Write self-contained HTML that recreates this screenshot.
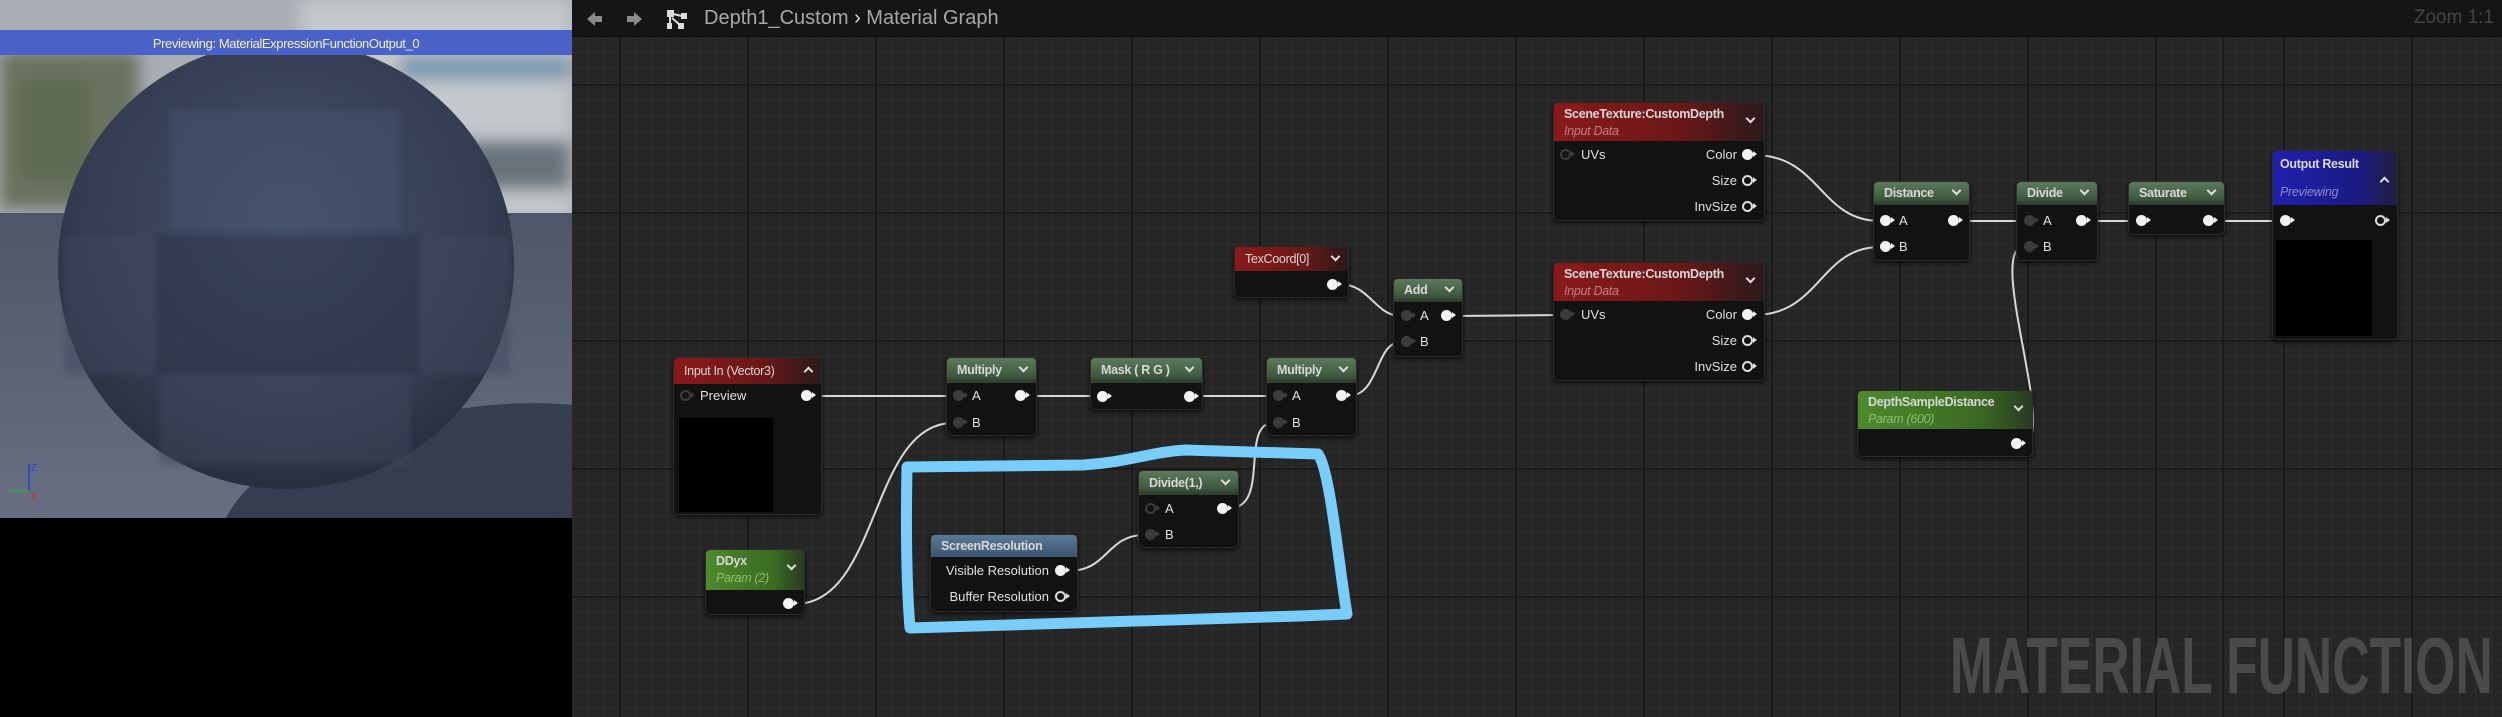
<!DOCTYPE html>
<html><head><meta charset="utf-8">
<style>
*{margin:0;padding:0;box-sizing:border-box}
body{width:2502px;height:717px;overflow:hidden;background:#000;font-family:"Liberation Sans",sans-serif;position:relative}
#graph{position:absolute;left:572px;top:0;width:1930px;height:717px;background-color:#262626;
background-image:
linear-gradient(to right,#1a1a1a 2px,transparent 2px),
linear-gradient(to bottom,#1a1a1a 2px,transparent 2px),
linear-gradient(to right,#2e2e2e 1px,transparent 1px),
linear-gradient(to bottom,#2e2e2e 1px,transparent 1px);
background-size:128px 128px,128px 128px,16px 16px,16px 16px;
background-position:-81px 84px,-81px 84px,-81px 84px,-81px 84px}
#bar{position:absolute;left:572px;top:0;width:1930px;height:37px;background:#151515;border-bottom:1px solid #0d0d0d}
.n{position:absolute;background:#121212;border:1px solid #2c2c2c;border-radius:5px;box-shadow:0 2px 5px rgba(0,0,0,.7)}
.h{position:absolute;left:0;top:0;right:0;border-radius:4px 4px 0 0;color:#d8d8d8;font-weight:bold;font-size:12.5px;letter-spacing:-0.3px;padding-left:10px;white-space:nowrap}
.g{background:linear-gradient(to bottom,#5d7a5d,#3f5a40 70%,#2b3a2b)}
.r{background:linear-gradient(to right,#8a1a1a,#6a1717 60%,#2a1a1a)}
.bl{background:linear-gradient(to bottom,#5a7a98,#3c5670)}
.gp{background:linear-gradient(to right,#4e8a2c,#3a6a22 70%,#2a3a22)}
.ob{background:linear-gradient(to right,#2020b0,#1a1a80 70%,#202040)}
.sub{font-style:italic;font-weight:normal;font-size:12.5px}
.cv{position:absolute;width:7px;height:7px;border-right:2px solid #ddd;border-bottom:2px solid #ddd;transform:rotate(45deg)}
.cu{position:absolute;width:7px;height:7px;border-left:2px solid #ddd;border-top:2px solid #ddd;transform:rotate(45deg)}
.p{position:absolute;width:11px;height:11px;margin:-6px 0 0 -6px;border-radius:50%;background:#f2f2f2}
.p::after{content:"";position:absolute;left:11px;top:2px;border-left:4px solid #f2f2f2;border-top:3.5px solid transparent;border-bottom:3.5px solid transparent}
.ph{background:transparent;border:2px solid #ddd}
.ph::after{left:9px;top:0px;border-left-color:#ddd}
.pg{background:#3c3c3c}
.pg::after{border-left-color:#3c3c3c}
.po{background:transparent;border:2px solid #3c3c3c}
.po::after{left:9px;top:0px;border-left-color:#3c3c3c}
.l{position:absolute;color:#e0e0e0;font-size:13px;line-height:16px;margin-top:-8px;white-space:nowrap}
.lr{text-align:right}
</style></head><body>

<svg style="position:absolute;left:0;top:0" width="572" height="518" viewBox="0 0 572 518">
<defs>
<filter id="bl"><feGaussianBlur stdDeviation="8"/></filter>
<filter id="bs"><feGaussianBlur stdDeviation="3"/></filter>
<radialGradient id="sp" cx="0.5" cy="0.4" r="0.62">
<stop offset="0" stop-color="#45506a"/><stop offset="0.7" stop-color="#343d52"/><stop offset="1" stop-color="#262d3d"/>
</radialGradient>
<linearGradient id="fl" x1="0" y1="0" x2="0" y2="1"><stop offset="0" stop-color="#4f566a"/><stop offset="1" stop-color="#686f82"/></linearGradient>
</defs>
<rect width="572" height="518" fill="#a9afb4"/>
<g filter="url(#bl)">
<rect x="0" y="0" width="572" height="220" fill="#a8aeb3"/>
<rect x="300" y="0" width="272" height="220" fill="#c4c8cc"/>
<rect x="0" y="50" width="140" height="160" fill="#6a7260"/>
<rect x="20" y="80" width="70" height="100" fill="#5d6a52"/>
<rect x="400" y="55" width="170" height="25" fill="#7a98ad"/>
<rect x="460" y="140" width="110" height="50" fill="#68737a"/>
</g>
<rect x="0" y="213" width="572" height="305" fill="url(#fl)"/>
<path d="M226 518 Q250 470 330 440 Q470 395 572 405 L572 518 Z" fill="#363d51"/>
<ellipse cx="286" cy="265" rx="228" ry="224" fill="url(#sp)"/>
<g filter="url(#bs)" opacity=".45">
<rect x="155" y="235" width="265" height="140" fill="#2a3244"/>
<rect x="65" y="235" width="90" height="140" fill="#3f4960"/>
<rect x="420" y="235" width="90" height="140" fill="#3f4960"/>
<rect x="170" y="110" width="230" height="120" fill="#4a5670"/>
<rect x="160" y="375" width="250" height="90" fill="#3f4960"/>
</g>
<rect x="0" y="30" width="572" height="25" fill="#4a62c8"/>
<text x="286" y="48" text-anchor="middle" font-size="13" fill="#f0f0c8" letter-spacing="-0.4">Previewing: MaterialExpressionFunctionOutput_0</text>
<line x1="29" y1="464" x2="29" y2="491" stroke="#2a3ad0" stroke-width="1.5"/>
<line x1="8" y1="491" x2="29" y2="491" stroke="#2ab02a" stroke-width="1.5"/>
<text x="31" y="471" font-size="10" fill="#3040e0">Z</text>
<text x="31" y="500" font-size="10" fill="#e02020">X</text>
</svg>

<div id="graph"></div>
<div id="bar"></div>
<svg style="position:absolute;left:585px;top:8px" width="100" height="22">
<path d="M2 11 L10 4 L10 8 L17 8 L17 14 L10 14 L10 18 Z" fill="#8a8a8a"/>
<path d="M57 11 L49 4 L49 8 L42 8 L42 14 L49 14 L49 18 Z" fill="#8a8a8a"/>
<rect x="93" y="1" width="1" height="20" fill="#2a2a2a"/>
</svg>
<svg style="position:absolute;left:666px;top:9px" width="24" height="22">
<rect x="1" y="1" width="7" height="7" fill="#ddd"/><rect x="15" y="4" width="6" height="6" fill="#ddd"/><rect x="12" y="14" width="6" height="6" fill="#ddd"/><rect x="1" y="14" width="5" height="6" fill="#ddd"/>
<path d="M4 8 V16 M7 5 L16 7 M6 9 L14 16" stroke="#ddd" stroke-width="2"/>
</svg>
<div style="position:absolute;left:704px;top:7px;color:#a8a8a8;font-size:20px;white-space:nowrap">Depth1_Custom <span style="color:#ddd">&#8250;</span> Material Graph</div>
<div style="position:absolute;right:8px;top:7px;color:#444;font-size:19px">Zoom 1:1</div>
<div style="position:absolute;left:2223px;top:37px;width:1px;height:680px;background:#171717"></div>

<div style="position:absolute;left:1950px;top:626px;color:#4a4a4a;font-size:80px;line-height:80px;font-weight:bold;white-space:nowrap;transform:scaleX(0.645);transform-origin:left top">MATERIAL FUNCTION</div>

<svg style="position:absolute;left:0;top:0" width="2502" height="717">
<g stroke="#d8d8d8" stroke-width="2" fill="none">
<path d="M814 396 L953 396"/>
<path d="M1028 396 L1098 396"/>
<path d="M1197 396 L1273 396"/>
<path d="M795 604 C880 604 870 423 953 423"/>
<path d="M1067 571 C1110 571 1105 535 1145 535"/>
<path d="M1230 508 C1270 508 1240 423 1273 423"/>
<path d="M1348 396 C1380 396 1375 342 1401 342"/>
<path d="M1339 284 C1370 284 1375 316 1401 316"/>
<path d="M1453 316 L1561 315"/>
<path d="M1754 155 C1820 155 1820 221 1880 221"/>
<path d="M1754 315 C1820 315 1820 247 1880 247"/>
<path d="M1960 221 L2024 221"/>
<path d="M2022 444 C2060 444 1985 247 2024 247"/>
<path d="M2088 221 L2136 221"/>
<path d="M2215 221 L2280 221"/>
</g>
<path d="M907 467 L1083 465 C1130 462 1150 452 1185 450 L1318 454 C1330 470 1338 560 1347 614 L1300 616 C1150 620 1000 624 910 628 C906 580 906 520 907 467 Z" fill="none" stroke="#78cdfb" stroke-width="11" stroke-linejoin="round"/>
</svg>

<div class="n" style="left:673px;top:357px;width:149px;height:158px">
<div class="h r" style="height:26px;line-height:26px;font-weight:normal">Input In (Vector3)<span class="cu" style="right:9px;top:10px"></span></div>
<div style="position:absolute;left:5px;top:60px;width:94px;height:94px;background:#000"></div>
</div>
<span class="p po" style="left:686px;top:396px"></span><span class="l" style="left:700px;top:396px">Preview</span>
<span class="p" style="left:807px;top:396px"></span>

<div class="n" style="left:946px;top:357px;width:91px;height:79px">
<div class="h g" style="height:25px;line-height:25px">Multiply<span class="cv" style="right:9px;top:6px"></span></div></div>
<span class="p pg" style="left:959px;top:396px"></span><span class="l" style="left:972px;top:396px">A</span>
<span class="p pg" style="left:959px;top:423px"></span><span class="l" style="left:972px;top:423px">B</span>
<span class="p" style="left:1021px;top:396px"></span>

<div class="n" style="left:1090px;top:357px;width:113px;height:53px">
<div class="h g" style="height:25px;line-height:25px">Mask ( R G )<span class="cv" style="right:9px;top:6px"></span></div></div>
<span class="p" style="left:1103px;top:397px"></span><span class="p" style="left:1190px;top:397px"></span>

<div class="n" style="left:1266px;top:357px;width:91px;height:79px">
<div class="h g" style="height:25px;line-height:25px">Multiply<span class="cv" style="right:9px;top:6px"></span></div></div>
<span class="p pg" style="left:1279px;top:396px"></span><span class="l" style="left:1292px;top:396px">A</span>
<span class="p pg" style="left:1279px;top:423px"></span><span class="l" style="left:1292px;top:423px">B</span>
<span class="p" style="left:1342px;top:396px"></span>

<div class="n" style="left:1138px;top:470px;width:101px;height:78px">
<div class="h g" style="height:24px;line-height:24px">Divide(1,)<span class="cv" style="right:9px;top:6px"></span></div></div>
<span class="p po" style="left:1151px;top:509px"></span><span class="l" style="left:1165px;top:509px">A</span>
<span class="p pg" style="left:1151px;top:535px"></span><span class="l" style="left:1165px;top:535px">B</span>
<span class="p" style="left:1223px;top:509px"></span>

<div class="n" style="left:930px;top:534px;width:148px;height:78px">
<div class="h bl" style="height:22px;line-height:22px">ScreenResolution</div></div>
<span class="l lr" style="left:935px;width:114px;top:571px">Visible Resolution</span><span class="p" style="left:1061px;top:571px"></span>
<span class="l lr" style="left:935px;width:114px;top:597px">Buffer Resolution</span><span class="p ph" style="left:1061px;top:597px"></span>

<div class="n" style="left:705px;top:549px;width:100px;height:66px">
<div class="h gp" style="height:40px;line-height:17px;padding-top:3px">DDyx<br><span class="sub" style="color:#8ec070">Param (2)</span><span class="cv" style="right:9px;top:12px"></span></div></div>
<span class="p" style="left:789px;top:604px"></span>

<div class="n" style="left:1234px;top:246px;width:115px;height:52px">
<div class="h r" style="height:24px;line-height:24px;font-weight:normal">TexCoord[0]<span class="cv" style="right:9px;top:6px"></span></div></div>
<span class="p" style="left:1333px;top:285px"></span>

<div class="n" style="left:1393px;top:278px;width:70px;height:79px">
<div class="h g" style="height:23px;line-height:23px">Add<span class="cv" style="right:9px;top:5px"></span></div></div>
<span class="p pg" style="left:1407px;top:316px"></span><span class="l" style="left:1420px;top:316px">A</span>
<span class="p pg" style="left:1407px;top:342px"></span><span class="l" style="left:1420px;top:342px">B</span>
<span class="p" style="left:1447px;top:316px"></span>

<div class="n" style="left:1553px;top:102px;width:212px;height:119px">
<div class="h r" style="height:38px;line-height:17px;padding-top:3px">SceneTexture:CustomDepth<br><span class="sub" style="color:#c08080">Input Data</span><span class="cv" style="right:10px;top:12px"></span></div></div>
<span class="p po" style="left:1566px;top:155px"></span><span class="l" style="left:1581px;top:155px">UVs</span>
<span class="l lr" style="left:1650px;width:87px;top:155px">Color</span><span class="p" style="left:1748px;top:155px"></span>
<span class="l lr" style="left:1650px;width:87px;top:181px">Size</span><span class="p ph" style="left:1748px;top:181px"></span>
<span class="l lr" style="left:1650px;width:87px;top:207px">InvSize</span><span class="p ph" style="left:1748px;top:207px"></span>

<div class="n" style="left:1553px;top:262px;width:212px;height:119px">
<div class="h r" style="height:38px;line-height:17px;padding-top:3px">SceneTexture:CustomDepth<br><span class="sub" style="color:#c08080">Input Data</span><span class="cv" style="right:10px;top:12px"></span></div></div>
<span class="p pg" style="left:1566px;top:315px"></span><span class="l" style="left:1581px;top:315px">UVs</span>
<span class="l lr" style="left:1650px;width:87px;top:315px">Color</span><span class="p" style="left:1748px;top:315px"></span>
<span class="l lr" style="left:1650px;width:87px;top:341px">Size</span><span class="p ph" style="left:1748px;top:341px"></span>
<span class="l lr" style="left:1650px;width:87px;top:367px">InvSize</span><span class="p ph" style="left:1748px;top:367px"></span>

<div class="n" style="left:1873px;top:181px;width:97px;height:80px">
<div class="h g" style="height:23px;line-height:23px">Distance<span class="cv" style="right:9px;top:5px"></span></div></div>
<span class="p" style="left:1886px;top:221px"></span><span class="l" style="left:1899px;top:221px">A</span>
<span class="p" style="left:1886px;top:247px"></span><span class="l" style="left:1899px;top:247px">B</span>
<span class="p" style="left:1954px;top:221px"></span>

<div class="n" style="left:2016px;top:181px;width:82px;height:80px">
<div class="h g" style="height:23px;line-height:23px">Divide<span class="cv" style="right:9px;top:5px"></span></div></div>
<span class="p pg" style="left:2030px;top:221px"></span><span class="l" style="left:2043px;top:221px">A</span>
<span class="p pg" style="left:2030px;top:247px"></span><span class="l" style="left:2043px;top:247px">B</span>
<span class="p" style="left:2082px;top:221px"></span>

<div class="n" style="left:2128px;top:181px;width:97px;height:54px">
<div class="h g" style="height:23px;line-height:23px">Saturate<span class="cv" style="right:9px;top:5px"></span></div></div>
<span class="p" style="left:2142px;top:221px"></span><span class="p" style="left:2209px;top:221px"></span>

<div class="n" style="left:2272px;top:150px;width:126px;height:190px">
<div class="h ob" style="height:54px;line-height:17px;padding-top:5px;padding-left:7px">Output Result<span class="sub" style="color:#8a8ad0;position:absolute;left:7px;top:33px">Previewing</span><span class="cu" style="right:9px;top:27px"></span></div>
<div style="position:absolute;left:3px;top:89px;width:96px;height:96px;background:#000"></div></div>
<span class="p" style="left:2286px;top:221px"></span><span class="p ph" style="left:2381px;top:221px"></span>

<div class="n" style="left:1857px;top:390px;width:176px;height:67px">
<div class="h gp" style="height:38px;line-height:17px;padding-top:3px">DepthSampleDistance<br><span class="sub" style="color:#8ec070">Param (600)</span><span class="cv" style="right:10px;top:12px"></span></div></div>
<span class="p" style="left:2017px;top:444px"></span>

</body></html>
